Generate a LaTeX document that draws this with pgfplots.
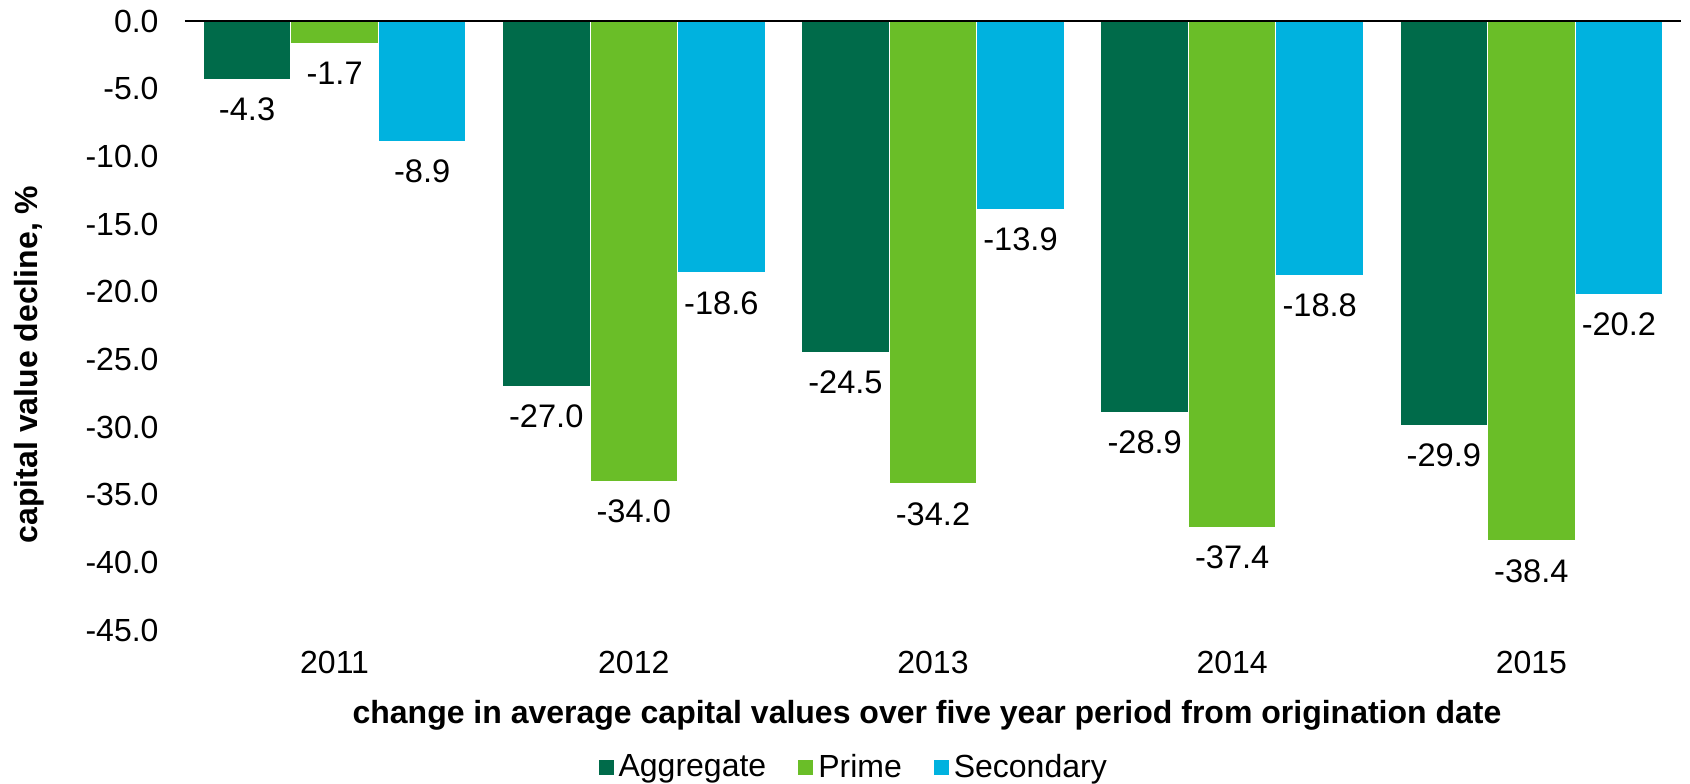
\documentclass[border=0pt]{standalone}
\usepackage{pgfplots}
\pgfplotsset{compat=1.18}
\usepackage{fontspec}
\setmainfont{Liberation Sans}
\definecolor{cagg}{HTML}{006B4A}
\definecolor{cprime}{HTML}{6ABE28}
\definecolor{csec}{HTML}{00B2DF}
\begin{document}
\begin{tikzpicture}
\begin{axis}[
  scale only axis, width=748pt, height=304.5pt,
  ybar=0pt, bar width=0.2925,
  xmin=-0.5, xmax=4.5, ymin=-45, ymax=0,
  xtick={0,1,2,3,4}, xticklabels={2011,2012,2013,2014,2015},
  ytick={-45,-40,...,0},
  axis line style={draw=none},
  major tick length=0pt,
  /pgf/number format/fixed,
  /pgf/number format/fixed zerofill,
  /pgf/number format/precision=1,
  /pgf/number format/assume math mode=true,
  ticklabel style={font=\fontsize{16}{19}\selectfont},
  xticklabel style={yshift=-7.2pt},
  yticklabel style={xshift=-9.7pt},
  xlabel={change in average capital values over five year period from origination date},
  xlabel style={font=\bfseries\fontsize{16}{19}\selectfont, at={(axis description cs:0.496,-0.1396)}, anchor=center},
  ylabel={capital value decline, \%},
  ylabel style={font=\bfseries\fontsize{16}{19}\selectfont, at={(axis description cs:-0.104,0.436)}, anchor=center},
  nodes near coords,
  every node near coord/.append style={font=\fontsize{16.3}{19}\selectfont, anchor=north, yshift=-5.7pt, black},
  legend style={at={(axis description cs:0.448,-0.225)}, anchor=center, draw=none, fill=none,
    font=\fontsize{16}{19}\selectfont, legend columns=3,
    /tikz/every even column/.append style={column sep=13.5pt}, nodes={inner sep=2.5pt}},
  legend image code/.code={\fill[#1, draw=none] (0pt,-3.75pt) rectangle (7.5pt,3.75pt);},
  clip=false,
]
\addplot[fill=cagg, draw=white, line width=0.5pt] coordinates {(0,-4.3) (1,-27.0) (2,-24.5) (3,-28.9) (4,-29.9)};
\addlegendentry{Aggregate}
\addplot[fill=cprime, draw=white, line width=0.5pt] coordinates {(0,-1.7) (1,-34.0) (2,-34.2) (3,-37.4) (4,-38.4)};
\addlegendentry{Prime}
\addplot[fill=csec, draw=white, line width=0.5pt] coordinates {(0,-8.9) (1,-18.6) (2,-13.9) (3,-18.8) (4,-20.2)};
\addlegendentry{Secondary}
\draw[black, line width=1pt] (rel axis cs:0,1) -- (rel axis cs:1,1);
\coordinate (bbl) at (axis description cs:-0.12366,-0.25287);
\coordinate (btr) at (axis description cs:1.00602,1.03448);
\end{axis}
\pgfresetboundingbox
\useasboundingbox (bbl) rectangle (btr);
\end{tikzpicture}
\end{document}
